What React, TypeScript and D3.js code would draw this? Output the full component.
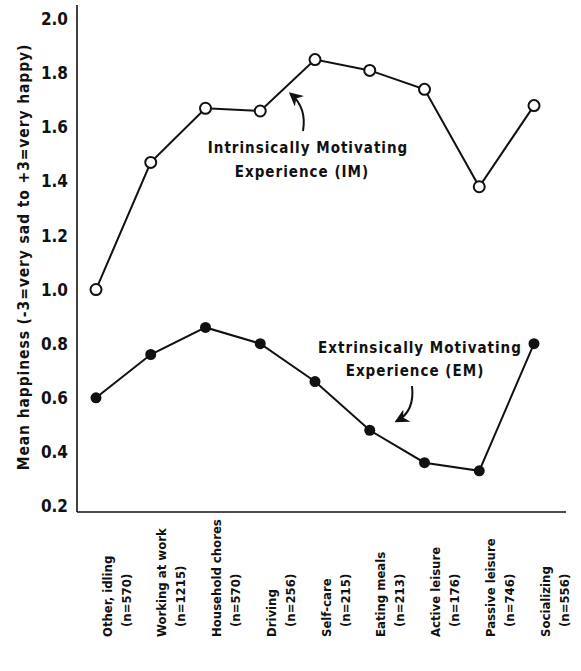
import * as d3 from 'd3'

const categories = [
  'Other, idling',
  'Working at work',
  'Household chores',
  'Driving',
  'Self-care',
  'Eating meals',
  'Active leisure',
  'Passive leisure',
  'Socializing',
]
const sampleSizes = ['(n=570)', '(n=1215)', '(n=570)', '(n=256)', '(n=215)', '(n=213)', '(n=176)', '(n=746)', '(n=556)']

// Intrinsically motivating experience
const imValues = [1.0, 1.47, 1.67, 1.66, 1.85, 1.81, 1.74, 1.38, 1.68]
// Extrinsically motivating experience
const emValues = [0.6, 0.76, 0.86, 0.8, 0.66, 0.48, 0.36, 0.33, 0.8]

const yTicks = [0.2, 0.4, 0.6, 0.8, 1.0, 1.2, 1.4, 1.6, 1.8, 2.0]

const W = 581
const H = 671
const FONT = '"DejaVu Sans Condensed", "DejaVu Sans", sans-serif'
const INK = '#111'

export default function App() {
  const x = d3.scalePoint<string>().domain(categories).range([96, 534])
  const y = d3.scaleLinear().domain([0.2, 2.0]).range([506, 19])
  const axisX = 77
  const axisY = 512

  const line = d3
    .line<number>()
    .x((_, i) => x(categories[i]) ?? 0)
    .y((d) => y(d))

  const imArrow = d3.path()
  imArrow.moveTo(303, 131)
  imArrow.quadraticCurveTo(307, 108, 291, 94)
  const emArrow = d3.path()
  emArrow.moveTo(412, 386)
  emArrow.quadraticCurveTo(415, 411, 397, 421)

  return (
    <svg
      width={W}
      height={H}
      style={{ position: 'absolute', left: 0, top: 0, background: '#fff' }}
      fontFamily={FONT}
      fontWeight="bold"
      fill={INK}
    >
      <defs>
        <marker id="arrow" viewBox="0 0 10 10" refX="8" refY="5" markerWidth="7" markerHeight="7" orient="auto">
          <path d="M0,0 L10,5 L0,10 L3,5 Z" fill={INK} />
        </marker>
      </defs>

      {/* axes */}
      <line x1={axisX} x2={axisX} y1={5} y2={axisY} stroke={INK} strokeWidth={1.6} />
      <line x1={axisX} x2={566} y1={axisY} y2={axisY} stroke={INK} strokeWidth={1.6} />

      {yTicks.map((t) => (
        <text key={t} x={68} y={y(t)} dy="0.36em" textAnchor="end" fontSize={17}>
          {t.toFixed(1)}
        </text>
      ))}

      <text
        transform={`translate(24,257) rotate(-90)`}
        textAnchor="middle"
        dy="0.35em"
        fontSize={15.5}
        letterSpacing={0.9}
      >
        Mean happiness (-3=very sad to +3=very happy)
      </text>

      {/* category labels */}
      {categories.map((c, i) => {
        const px = x(c) ?? 0
        return (
          <g key={c} fontSize={13}>
            <text transform={`translate(${px + 11},637) rotate(-90)`} dy="0.35em">
              {c}
            </text>
            <text transform={`translate(${px + 30},627) rotate(-90)`} dy="0.35em">
              {sampleSizes[i]}
            </text>
          </g>
        )
      })}

      {/* series */}
      <path d={line(imValues) ?? ''} fill="none" stroke={INK} strokeWidth={2} />
      <path d={line(emValues) ?? ''} fill="none" stroke={INK} strokeWidth={2} />
      {imValues.map((v, i) => (
        <circle key={'im' + i} cx={x(categories[i])} cy={y(v)} r={5.5} fill="#fff" stroke={INK} strokeWidth={2} />
      ))}
      {emValues.map((v, i) => (
        <circle key={'em' + i} cx={x(categories[i])} cy={y(v)} r={5.5} fill={INK} />
      ))}

      {/* annotations */}
      <g fontSize={15} letterSpacing={1}>
        <path d={imArrow.toString()} fill="none" stroke={INK} strokeWidth={2} markerEnd="url(#arrow)" />
        <text x={308} y={148} dy="0.35em" textAnchor="middle">
          Intrinsically Motivating
        </text>
        <text x={302} y={172} dy="0.35em" textAnchor="middle">
          Experience (IM)
        </text>

        <path d={emArrow.toString()} fill="none" stroke={INK} strokeWidth={2} markerEnd="url(#arrow)" />
        <text x={420} y={348} dy="0.35em" textAnchor="middle">
          Extrinsically Motivating
        </text>
        <text x={415} y={371} dy="0.35em" textAnchor="middle">
          Experience (EM)
        </text>
      </g>
    </svg>
  )
}
